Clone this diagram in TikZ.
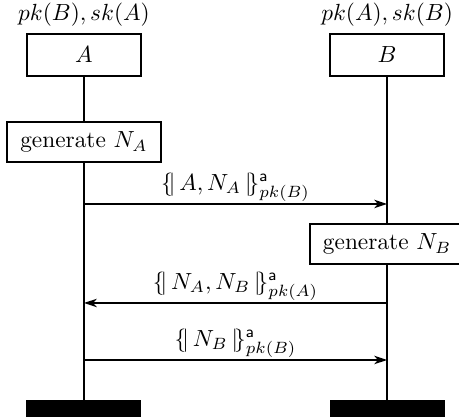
\documentclass[tikz,border=0pt]{standalone}
\usepackage{amsthm,amssymb,amsmath}
\usepackage{tikz}
\usetikzlibrary{arrows.meta}
\pgfdeclarelayer{bg}
\pgfsetlayers{bg,main}
\newcommand{\aenc}[2]{\{\!|\,#1\,|\!\}^{\mathsf{a}}_{#2}}
\tikzset{
    every node/.style={inner sep=0mm},
    every label/.style={shape=rectangle, draw=none, inner sep=0mm},
    headbox/.style={rectangle, draw, fill=white, line width=0.7pt, minimum width=1.716cm, minimum height=0.632cm},
    actbox/.style={rectangle, draw, fill=white, line width=0.7pt, inner xsep=5.6pt, minimum height=0.602cm},
    endbar/.style={rectangle, fill=black, minimum width=1.731cm, minimum height=0.256cm},
    msglabel/.style={above, inner sep=0.6pt},
    msgarrow/.style={line width=0.7pt, -{Stealth[length=5.5pt, width=3.6pt, inset=1.6pt]}}
}

\begin{document}
\begin{tikzpicture}
    \useasboundingbox (0cm, 0cm) rectangle (6.908cm, -6.306cm);

    \node (headA) [headbox, label={[label distance=2.6pt]above:$pk(B), sk(A)$}] at (1.264cm, -0.828cm) {$A$};
    \node (headB) [headbox, label={[label distance=2.6pt]above:$pk(A), sk(B)$}] at (5.826cm, -0.828cm) {$B$};

    \node (genA) [actbox] at (1.264cm, -2.137cm) {generate $N_A$};
    \node (genB) [actbox] at (5.826cm, -3.672cm) {generate $N_B$};

    \node (endA) [endbar] at (1.264cm, -6.148cm) {};
    \node (endB) [endbar] at (5.826cm, -6.148cm) {};

    \coordinate (m1a) at (1.264cm, -3.070cm);
    \coordinate (m1b) at (5.826cm, -3.070cm);
    \coordinate (m2a) at (1.264cm, -4.560cm);
    \coordinate (m2b) at (5.826cm, -4.560cm);
    \coordinate (m3a) at (1.264cm, -5.418cm);
    \coordinate (m3b) at (5.826cm, -5.418cm);

    \begin{pgfonlayer}{bg}
        \draw [line width=0.7pt] (headA) -- (endA);
        \draw [line width=0.7pt] (headB) -- (endB);
    \end{pgfonlayer}

    \draw [msgarrow] (m1a) -- node [msglabel] {$\aenc{A, N_A}{pk(B)}$} (m1b);
    \draw [msgarrow] (m2b) -- node [msglabel] {$\aenc{N_A, N_B}{pk(A)}$} (m2a);
    \draw [msgarrow] (m3a) -- node [msglabel] {$\aenc{N_B}{pk(B)}$} (m3b);
\end{tikzpicture}
\end{document}
